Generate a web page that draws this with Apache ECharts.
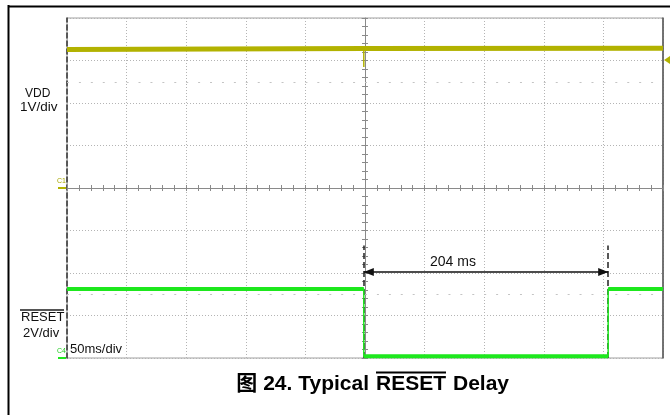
<!DOCTYPE html>
<html>
<head>
<meta charset="utf-8">
<script src="https://cdn.jsdelivr.net/npm/echarts@6/dist/echarts.min.js"></script>
<style>
html,body{margin:0;padding:0;background:#fff;}
#chart{width:670px;height:415px;}
</style>
</head>
<body>
<div id="chart"></div>
<script>
// ---- data (time in ms relative to trigger, voltages in V) ----
const vddTime = [-250, -1, 250];
const vddVolt = [3.26, 3.28, 3.29];
const spikeTime = [-1, -1];
const spikeVolt = [3.28, 2.85];
const resetTime = [-250, -1, -1, 204, 204, 250];
const resetVolt = [3.25, 3.25, 0.08, 0.08, 3.25, 3.25];
const cursorTimes = [-1, 204];
const cursorTopVolt = 5.3;
const arrowVolt = 4.05;
const delayText = '204 ms';
const markerRows = [2.5, -2.5];

const FONT = '"Liberation Sans", Arial, "Noto Sans CJK SC", sans-serif';
const YEL = '#b2b200';
const GRN = '#1ee81e';
// arrow head whose tip sits at the symbol centre
const ARROW = 'path://M5,10L10,20L0,20Z M5,0';

function pairs(xs, ys) { return xs.map((x, i) => [x, ys[i]]); }
// thick levels: break at vertical steps
function levels(xs, ys) {
  const out = [];
  for (let i = 0; i < xs.length; i++) {
    if (i > 0 && xs[i] === xs[i - 1]) out.push([xs[i], null]);
    out.push([xs[i], ys[i]]);
  }
  return out;
}

const chart = echarts.init(document.getElementById('chart'), null, {renderer: 'canvas'});

const gridLine = {show: true, lineStyle: {color: '#b4b4b4', type: [1, 2], width: 1}};
const tickStyle = {color: '#8a8a8a', width: 1};

const option = {
  animation: false,
  backgroundColor: '#fff',
  grid: {left: 67, top: 18, right: 7, bottom: 57, show: true, borderColor: '#a0a0a0', borderWidth: 1, containLabel: false},
  xAxis: [
    {type: 'value', min: -250, max: 250, interval: 50, position: 'bottom',
     axisLine: {show: true, onZero: true, onZeroAxisIndex: 0, lineStyle: {color: '#8a8a8a', width: 1}},
     axisTick: {show: true, inside: true, length: 3, lineStyle: tickStyle},
     minorTick: {show: true, splitNumber: 5, length: 3, lineStyle: tickStyle},
     axisLabel: {show: false}, splitLine: gridLine},
    {type: 'value', min: -250, max: 250, interval: 50, position: 'top',
     axisLine: {show: false, onZero: true, onZeroAxisIndex: 0},
     axisTick: {show: true, inside: true, length: 3, lineStyle: tickStyle},
     minorTick: {show: true, splitNumber: 5, length: 3, lineStyle: tickStyle},
     axisLabel: {show: false}, splitLine: {show: false}}
  ],
  yAxis: [
    {type: 'value', min: -4, max: 4, interval: 1, position: 'left',
     axisLine: {show: true, onZero: true, onZeroAxisIndex: 0, lineStyle: {color: '#8a8a8a', width: 1}},
     axisTick: {show: true, inside: true, length: 3, lineStyle: tickStyle},
     minorTick: {show: true, splitNumber: 5, length: 3, lineStyle: tickStyle},
     axisLabel: {show: false}, splitLine: gridLine},
    {type: 'value', min: -4, max: 4, interval: 1, position: 'right',
     axisLine: {show: false, onZero: true, onZeroAxisIndex: 0},
     axisTick: {show: true, inside: true, length: 3, lineStyle: tickStyle},
     minorTick: {show: true, splitNumber: 5, length: 3, lineStyle: tickStyle},
     axisLabel: {show: false}, splitLine: {show: false}},
    {type: 'value', min: 0, max: 16, interval: 2, position: 'left',
     axisLine: {show: true, onZero: false, lineStyle: {color: '#333', width: 1.5, type: [5, 3]}},
     axisTick: {show: false}, axisLabel: {show: false}, splitLine: {show: false}},
    {type: 'value', min: 0, max: 16, interval: 2, position: 'right',
     axisLine: {show: true, onZero: false, lineStyle: {color: '#555', width: 1.5}},
     axisTick: {show: false}, axisLabel: {show: false}, splitLine: {show: false}}
  ],
  series: [
    {name: 'VDD', type: 'line', xAxisIndex: 0, yAxisIndex: 0, symbol: 'none', z: 5,
     data: pairs(vddTime, vddVolt),
     lineStyle: {color: YEL, width: 5, cap: 'butt'},
     markLine: {silent: true, symbol: 'none', label: {show: false},
       lineStyle: {color: '#c4c4c4', type: [2, 9.92], width: 1},
       data: markerRows.map(v => ({yAxis: v}))}},
    {name: 'VDD spike', type: 'line', xAxisIndex: 0, yAxisIndex: 0, symbol: 'none', z: 5,
     data: pairs(spikeTime, spikeVolt),
     lineStyle: {color: YEL, width: 1.5}},
    {name: 'RESET', type: 'line', xAxisIndex: 0, yAxisIndex: 2, symbol: 'none', z: 5,
     data: levels(resetTime, resetVolt), connectNulls: false,
     lineStyle: {color: GRN, width: 4, cap: 'butt'}},
    {name: 'RESET edges', type: 'line', xAxisIndex: 0, yAxisIndex: 2, symbol: 'none', z: 5,
     data: pairs(resetTime, resetVolt),
     lineStyle: {color: GRN, width: 1.5},
     markLine: {silent: true, symbol: 'none', label: {show: false},
       lineStyle: {color: '#222', type: [6, 3], width: 1.5},
       data: cursorTimes.map(t => [{coord: [t, 0]}, {coord: [t, cursorTopVolt]}])}},
    {name: 'delay', type: 'line', xAxisIndex: 0, yAxisIndex: 2, symbol: 'none', z: 6, data: [],
     markLine: {silent: true, symbol: [ARROW, ARROW], symbolSize: [8, 20], label: {show: false},
       lineStyle: {color: '#111', type: 'solid', width: 1.5},
       itemStyle: {color: '#111'},
       data: [[{coord: [cursorTimes[0], arrowVolt]}, {coord: [cursorTimes[1], arrowVolt]}]]}}
  ],
  graphic: [
    {type: 'line', shape: {x1: 8.5, y1: 5, x2: 8.5, y2: 415}, style: {stroke: '#000', lineWidth: 2}},
    {type: 'line', shape: {x1: 8, y1: 6.5, x2: 670, y2: 6.5}, style: {stroke: '#000', lineWidth: 2}},
    {type: 'text', left: 25, top: 88, style: {text: 'VDD', font: '12px ' + FONT, fill: '#111'}},
    {type: 'text', left: 20, top: 101, style: {text: '1V/div', font: '13.5px ' + FONT, fill: '#111'}},
    {type: 'rect', shape: {x: 20, y: 309, width: 44, height: 2}, style: {fill: '#555'}},
    {type: 'text', left: 21, top: 311, style: {text: 'RESET', font: '13px ' + FONT, fill: '#111'}},
    {type: 'text', left: 23, top: 327, style: {text: '2V/div', font: '13px ' + FONT, fill: '#111'}},
    {type: 'text', left: 70, top: 343, style: {text: '50ms/div', font: '13px ' + FONT, fill: '#111'}},
    {type: 'text', left: 57, top: 178, style: {text: 'C1', font: '7px ' + FONT, fill: '#a6a600'}},
    {type: 'rect', shape: {x: 58, y: 187, width: 8, height: 2}, style: {fill: YEL}},
    {type: 'text', left: 57, top: 348, style: {text: 'C4', font: '7px ' + FONT, fill: '#22cc22'}},
    {type: 'rect', shape: {x: 58, y: 357, width: 8, height: 2}, style: {fill: GRN}},
    {type: 'polygon', shape: {points: [[664, 60], [670, 56], [670, 64]]}, style: {fill: YEL}},
    {type: 'text', left: 430, top: 255, style: {text: delayText, font: '14px ' + FONT, fill: '#111'}},
    {type: 'text', x: 369, y: 384, style: {text: '图 24. Typical', font: 'bold 21px ' + FONT, fill: '#000', align: 'right', verticalAlign: 'middle'}},
    {type: 'text', x: 376, y: 384, style: {text: 'RESET', font: 'bold 21px ' + FONT, fill: '#000', align: 'left', verticalAlign: 'middle'}},
    {type: 'text', x: 453, y: 384, style: {text: 'Delay', font: 'bold 21px ' + FONT, fill: '#000', align: 'left', verticalAlign: 'middle'}},
    {type: 'rect', shape: {x: 376, y: 371.5, width: 70, height: 2}, style: {fill: '#000'}}
  ]
};
chart.setOption(option);
</script>
</body>
</html>
